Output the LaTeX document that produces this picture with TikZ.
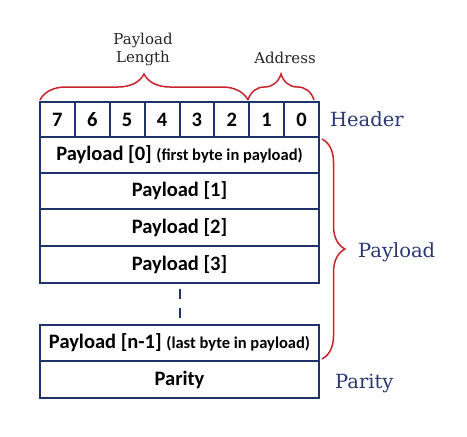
\documentclass[tikz,border=0pt]{standalone}
\usepackage{fontspec}
\newfontfamily\cellfont{Carlito}
\newfontfamily\labelfont{DejaVu Serif}
\usetikzlibrary{decorations.pathreplacing}
\definecolor{framenavy}{RGB}{30,50,110}
\definecolor{bracered}{RGB}{200,35,45}
\definecolor{labelnavy}{RGB}{40,55,115}
\newcommand\bytenote[1]{{\fontsize{16.5}{18}\selectfont #1}}
\tikzset{
    bitcell/.style={draw=framenavy, line width=2pt, minimum width=34.875pt, minimum height=35pt,
        inner sep=0pt, font=\cellfont\bfseries\fontsize{20.5}{24}\selectfont},
    rowcell/.style={bitcell, minimum width=279pt, minimum height=36.5pt},
    curly/.style={draw=bracered, line width=1.5pt, decorate},
    sidelabel/.style={text=labelnavy, font=\labelfont\fontsize{19.5}{22}\selectfont, anchor=base west, inner sep=0pt},
    toplabel/.style={text=black!85, font=\labelfont\fontsize{15}{18}\selectfont, align=center, inner sep=0pt}
}
\begin{document}
\begin{tikzpicture}[x=1pt, y=-1pt]
                \useasboundingbox (0,0) rectangle (467,437);
                % header bits
                \foreach \i in {0,...,7} {
                    \pgfmathtruncatemacro\d{7-\i}
                    \node[bitcell] (b\d) at ({57.44+34.875*\i},119.5) {\d};
                }
                % payload rows
                \node[rowcell] (p0) at (179.5,155) {Payload [0] \bytenote{(first byte in payload)}};
                \node[rowcell] (p1) at (179.5,191) {Payload [1]};
                \node[rowcell] (p2) at (179.5,227.5) {Payload [2]};
                \node[rowcell] (p3) at (179.5,264.5) {Payload [3]};
                \node[rowcell] (pn) at (179.5,343) {Payload [n-1] \bytenote{(last byte in payload)}};
                \node[rowcell] (par) at (179.5,379.5) {Parity};
                \draw[framenavy, line width=2pt, dash pattern=on 10pt off 9pt,
                    shorten <=5pt, shorten >=5pt] (p3.south) -- (pn.north);
                % braces
                \coordinate (lenA) at (40,100);
                \coordinate (lenB) at (248,100);
                \coordinate (addrB) at (314,100);
                \coordinate (payA) at (322,139);
                \coordinate (payB) at (322,359);
                \draw[curly, decoration={brace, amplitude=26pt}] (lenA) -- (lenB);
                \draw[curly, decoration={brace, amplitude=26pt}] (lenB) -- (addrB);
                \draw[curly, decoration={brace, amplitude=23pt}] (payA) -- (payB);
                % labels
                \node[toplabel] (lenlabel) at (143,49) {Payload\\Length};
                \node[toplabel] (addrlabel) at (285,58) {Address};
                \node[sidelabel] (hdrlabel) at (330,126) {Header};
                \node[sidelabel] (paylabel) at (358,257.5) {Payload};
                \node[sidelabel] (parlabel) at (335,388) {Parity};
            \end{tikzpicture}
\end{document}
